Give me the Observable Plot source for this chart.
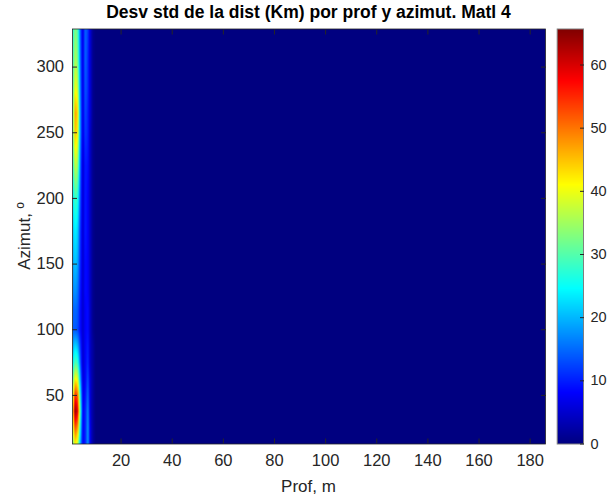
<!DOCTYPE html>
<html>
<head>
<meta charset="utf-8">
<script src="https://cdn.jsdelivr.net/npm/d3@7"></script>
<script src="https://cdn.jsdelivr.net/npm/@observablehq/plot@0.6"></script>
<style>
  body { margin: 0; background: #fff; }
  #wrap { position: relative; width: 608px; height: 499px; font-family: "Liberation Sans", Arial, Helvetica, sans-serif; color: #262626; }
  #wrap svg { position: absolute; top: 0; overflow: visible; }
  .lbl { position: absolute; line-height: 1; white-space: nowrap; }
  #title { left: 72px; width: 473px; top: 4px; text-align: center; font-weight: bold; font-size: 17.5px; color: #000; }
  #xlabel { left: 72px; width: 473px; top: 478px; text-align: center; font-size: 17px; }
  #ylabel { left: 24px; top: 236px; font-size: 17px; transform: translate(-50%, -50%) rotate(-90deg); }
</style>
</head>
<body>
<div id="wrap">
  <div id="title" class="lbl">Desv std de la dist (Km) por prof y azimut. Matl 4</div>
  <div id="xlabel" class="lbl">Prof, m</div>
  <div id="ylabel" class="lbl">Azimut, º</div>
</div>
<script>
// ---- data ----
const depths = [1, 2, 3, 4, 5, 6, 7, 8, 9, 10];            // Prof, m (columns); beyond 10 the values are ~0
const azimuths = [13, 25, 38, 50, 62, 75, 88, 100, 115, 130, 150, 175, 200, 225, 250, 265, 285, 305, 329];
const stdDev = [                                              // one row per azimuth, one value per depth
  [30, 42, 38, 20, 8, 10, 18, 6, 2, 0],
  [35, 52, 48, 25, 8, 10, 18, 6, 2, 0],
  [40, 64, 60, 30, 8, 10, 17, 5, 2, 0],
  [35, 55, 52, 26, 7, 9, 15, 5, 2, 0],
  [28, 42, 40, 20, 6, 8, 13, 5, 2, 0],
  [22, 30, 28, 15, 5, 8, 11, 4, 2, 0],
  [18, 22, 20, 12, 5, 8, 10, 4, 2, 0],
  [14, 14, 13, 9, 5, 8, 9, 4, 1, 0],
  [14, 15, 14, 9, 5, 8, 9, 4, 1, 0],
  [16, 18, 16, 10, 5, 9, 8, 4, 1, 0],
  [18, 21, 19, 11, 5, 9, 8, 4, 1, 0],
  [20, 24, 22, 12, 5, 10, 8, 4, 1, 0],
  [22, 29, 27, 14, 5, 10, 8, 4, 1, 0],
  [25, 37, 35, 16, 5, 10, 9, 4, 1, 0],
  [28, 45, 42, 18, 6, 12, 10, 4, 1, 0],
  [28, 47, 44, 18, 6, 13, 10, 5, 1, 0],
  [27, 40, 38, 17, 6, 14, 11, 5, 1, 0],
  [26, 36, 33, 16, 6, 15, 11, 5, 1, 0],
  [25, 33, 30, 15, 6, 15, 12, 5, 1, 0]
];
const xDomain = [1, 186];
const yDomain = [13, 329];
const colorMax = 65.7;
const xTicks = [20, 40, 60, 80, 100, 120, 140, 160, 180];
const yTicks = [50, 100, 150, 200, 250, 300];
const cbTicks = [0, 10, 20, 30, 40, 50, 60];

// ---- helpers ----
function locate(arr, v) {
  if (v <= arr[0]) return [0, 0, 0];
  const n = arr.length - 1;
  if (v >= arr[n]) return [n, n, 0];
  const i = d3.bisectRight(arr, v) - 1;
  return [i, i + 1, (v - arr[i]) / (arr[i + 1] - arr[i])];
}
function sample(x, y) {            // bilinear (MATLAB "shading interp")
  const [c0, c1, tx] = locate(depths, x);
  const [r0, r1, ty] = locate(azimuths, y);
  const a = stdDev[r0][c0] * (1 - tx) + stdDev[r0][c1] * tx;
  const b = stdDev[r1][c0] * (1 - tx) + stdDev[r1][c1] * tx;
  return a * (1 - ty) + b * ty;
}
const clamp01 = v => Math.max(0, Math.min(1, v));
function jet(t) {
  const r = clamp01(Math.min(4 * t - 1.5, -4 * t + 4.5));
  const g = clamp01(Math.min(4 * t - 0.5, -4 * t + 3.5));
  const b = clamp01(Math.min(4 * t + 0.5, -4 * t + 2.5));
  return `rgb(${Math.round(r * 255)},${Math.round(g * 255)},${Math.round(b * 255)})`;
}
const colorScale = { type: "linear", domain: [0, colorMax], interpolate: jet, clamp: true };
const fontFamily = "'Liberation Sans', Arial, Helvetica, sans-serif";
const axisColor = "#262626";

// ---- main chart ----
const main = Plot.plot({
  width: 608, height: 499,
  marginLeft: 72, marginRight: 63, marginTop: 28.5, marginBottom: 55.5,
  x: { domain: xDomain },
  y: { domain: yDomain },
  color: colorScale,
  style: { fontFamily, fontSize: "16.5px", color: axisColor, background: "transparent", overflow: "visible" },
  marks: [
    Plot.raster({ x1: xDomain[0], x2: xDomain[1], y1: yDomain[0], y2: yDomain[1], fill: (x, y) => sample(x, y), pixelSize: 1 }),
    Plot.frame({ stroke: axisColor, strokeWidth: 0.8 }),
    Plot.axisX({ anchor: "bottom", ticks: xTicks, tickSize: -5, tickPadding: 15.5, stroke: axisColor, fill: axisColor, label: null }),
    Plot.axisX({ anchor: "top", ticks: xTicks, tickSize: -5, tickFormat: () => "", stroke: axisColor, label: null }),
    Plot.axisY({ anchor: "left", ticks: yTicks, tickSize: -5, tickPadding: 13.5, stroke: axisColor, fill: axisColor, label: null }),
    Plot.axisY({ anchor: "right", ticks: yTicks, tickSize: -5, tickFormat: () => "", stroke: axisColor, label: null })
  ]
});

// ---- colorbar ----
const bar = Plot.plot({
  width: 52, height: 499,
  marginLeft: 0.7, marginRight: 25, marginTop: 28.5, marginBottom: 55.5,
  x: { domain: [0, 1], axis: null },
  y: { domain: [0, colorMax], axis: null },
  color: colorScale,
  style: { fontFamily, fontSize: "14.5px", color: axisColor, background: "transparent", overflow: "visible" },
  marks: [
    Plot.raster({ x1: 0, x2: 1, y1: 0, y2: colorMax, fill: (x, y) => y, pixelSize: 1 }),
    Plot.frame({ stroke: "#7f7f7f", strokeWidth: 1 }),
    Plot.axisY({ anchor: "right", ticks: cbTicks, tickSize: -4, tickPadding: 11, stroke: axisColor, fill: axisColor, label: null })
  ]
});

const wrap = document.getElementById("wrap");
main.style.left = "0px";
bar.style.left = "556px";
wrap.appendChild(main);
wrap.appendChild(bar);
</script>
</body>
</html>
